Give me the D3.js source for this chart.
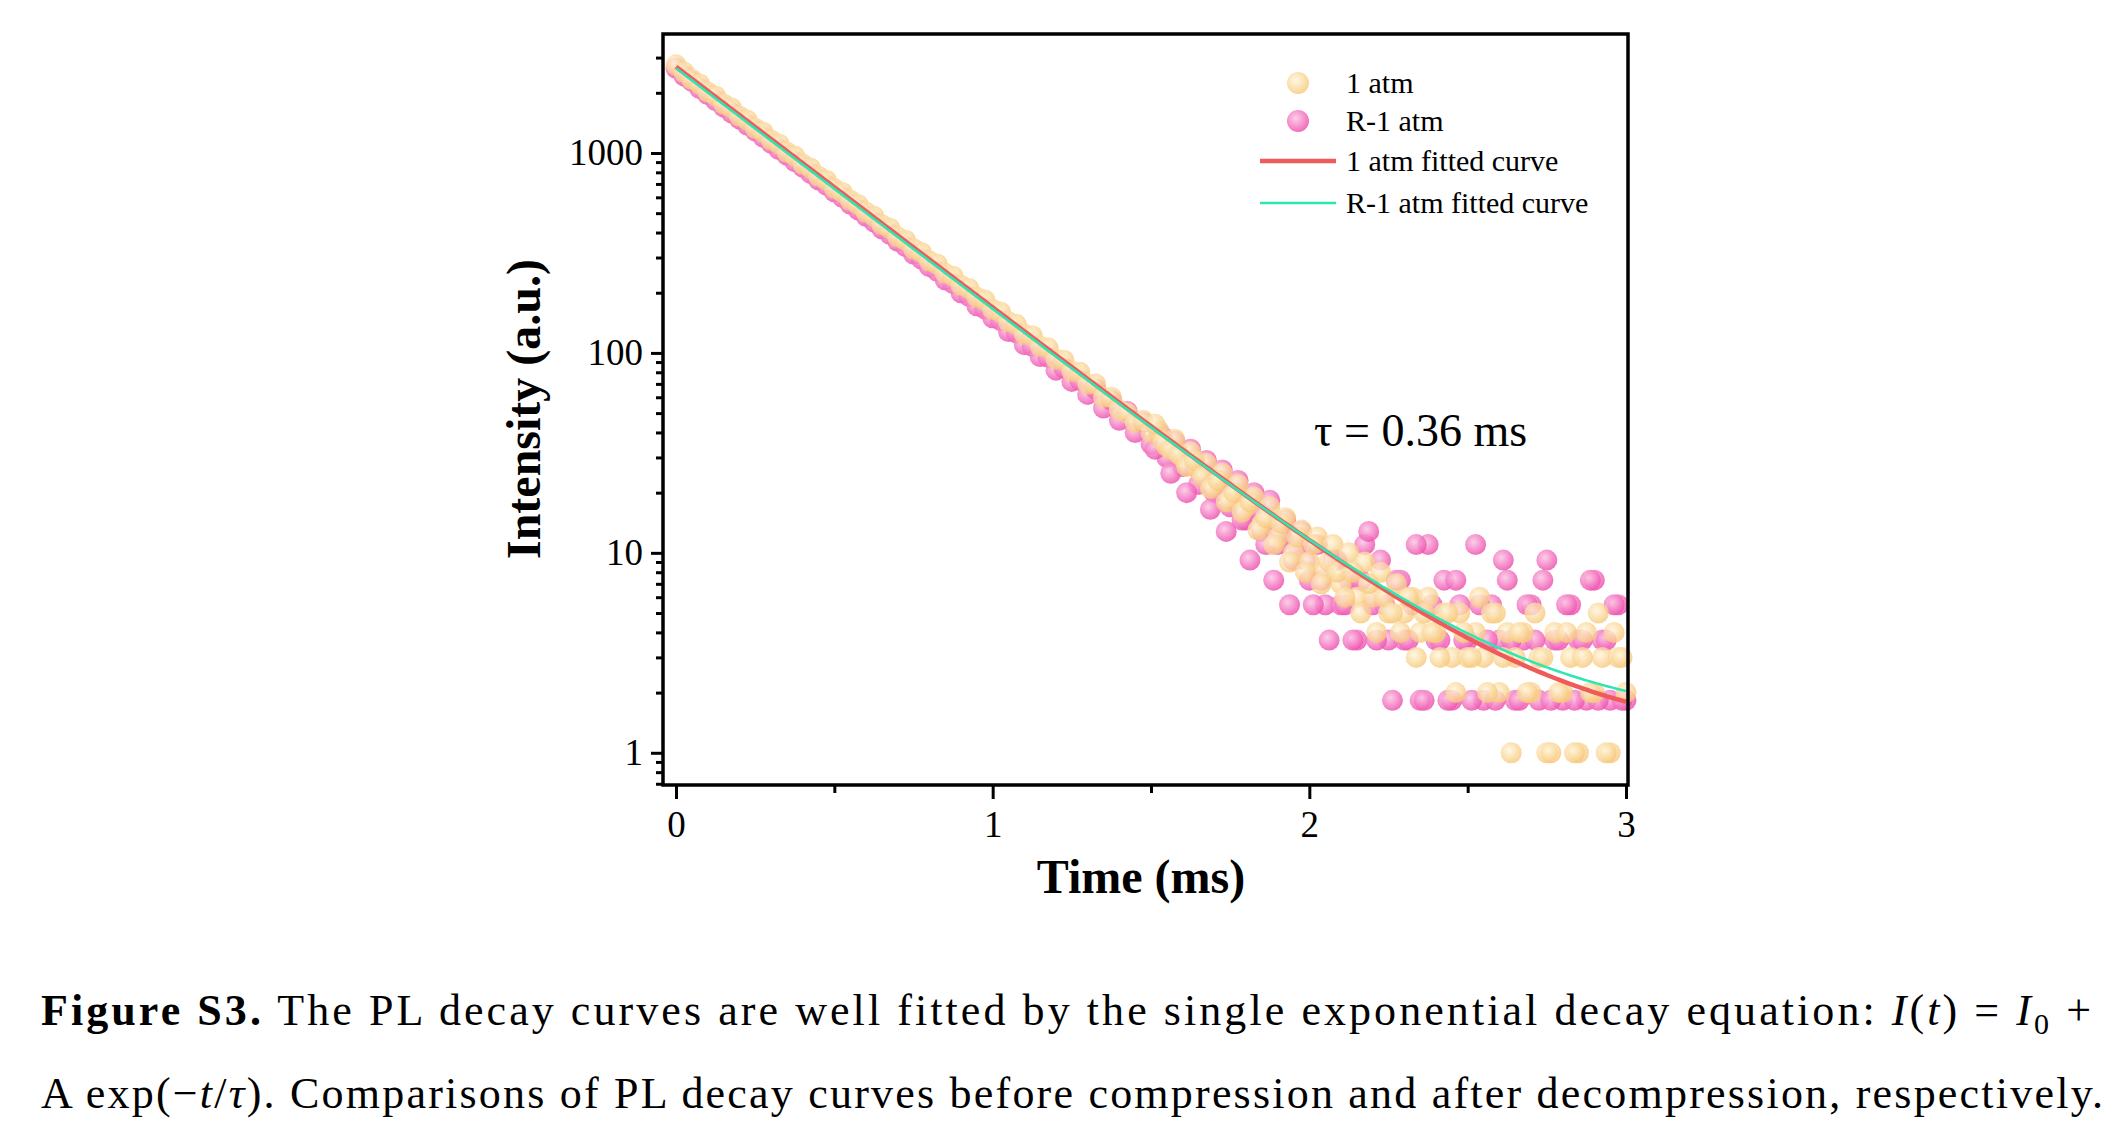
<!DOCTYPE html>
<html><head><meta charset="utf-8">
<script src="https://cdn.jsdelivr.net/npm/d3@7"></script>
<style>body{margin:0;background:#fff}svg{font-family:"Liberation Serif","Times New Roman",serif}</style>
</head><body><svg id="chart" width="2125" height="1128"></svg>
<script>
// sampling step of the decay traces (ms)
var step = 0.025;
var atm1 = [2760,2540,2330,2210,2020,1930,1760,1680,1530,1460,1330,1270,1160,1110,1010,965,880,840,765,730,665,
  635,580,552,505,482,438,420,380,366,332,318,288,278,250,242,218,210,190,184,165,
  160,143,139,124,122,108,106,93,92,81,80,70,70,60,60,52,50,45,46,40,
  41,34,37,30,32,26,28,22,25,19,22,17,19,14,17,12,15,10,13,9,
  12,8,11,7,10,6,9,6,8,5,7,5,6,4,6,4,5,3,5,3,
  4,3,5,2,4,3,4,2,3,1,4,2,3,1,4,2,3,1,3,2];
var r1atm = [2650,2430,2280,2100,1960,1830,1700,1590,1480,1380,1290,1200,1120,1040,975,905,850,790,735,690,640,
  600,555,520,482,452,418,392,362,340,312,295,270,256,232,222,200,192,172,166,150,
  145,128,126,110,108,96,95,82,84,72,73,62,66,53,58,46,51,40,45,35,
  40,30,36,27,33,22,29,20,26,17,23,14.6,20,12.8,18.3,11,14.6,9.2,12.8,7.3,
  11,5.5,9.2,5.5,7.3,3.66,11,5.5,9.2,3.66,7.3,3.66,5.5,1.83,11,3.66,7.3,1.83,5.5,3.66,
  11,1.83,5.5,3.66,7.3,1.83,3.66,5.5,1.83,9.2,3.66,1.83,5.5,3.66,1.83,7.3,3.66,1.83,5.5,1.83];
// extra tail samples, interleaved half a step later, starting at 1.5125 ms
var tailStart = 1.5125;
var atm1b = [44,36,33,31,27,29,24,21,23,18,20,16,18,13,15,11,14,9,12,8,
  11,7,9,8,6,8,5,7,4,6,5,4,6,3,5,4,3,5,2,4,
  3,6,2,5,3,1,4,2,5,3,1,2,4,1,3,2,5,1,4,3];
var r1atmb = [33,38,25,31,20,27,24,16.5,22,12.8,18.3,14.6,9.2,16.5,11,7.3,12.8,5.5,11,9.2,
  5.5,7.3,3.66,9.2,5.5,3.66,7.3,12.8,3.66,5.5,1.83,7.3,3.66,11,1.83,5.5,3.66,1.83,7.3,3.66,
  1.83,5.5,3.66,1.83,9.2,3.66,1.83,5.5,3.66,7.3,1.83,3.66,5.5,1.83,3.66,7.3,1.83,3.66,5.5,1.83];
// fit parameters I(t) = I0 + A exp(-t/tau): [I0, A, tau]
var fit1 = [1.15, 2700, 0.36];
var fitR = [1.4, 2650, 0.36];
var xTicks = [0, 1, 2, 3];
var yTicks = [1, 10, 100, 1000];
var legendLabels = ["1 atm", "R-1 atm", "1 atm fitted curve", "R-1 atm fitted curve"];

var svg = d3.select("#chart");
var L = 663, R = 1628, T = 34, B = 785;
var x = d3.scaleLinear().domain([0, 3]).range([676, 1626]);
var y = d3.scaleLog().domain([0.69, 3936]).range([B, T]);

var defs = svg.append("defs");
function grad(id, c0, c1) {
  var g = defs.append("radialGradient").attr("id", id).attr("cx", "40%").attr("cy", "38%").attr("r", "65%");
  g.append("stop").attr("offset", "0%").attr("stop-color", c0);
  g.append("stop").attr("offset", "100%").attr("stop-color", c1);
}
grad("gY", "#fff6dc", "#f7c574");
grad("gP", "#fcc6e4", "#ee4fae");

var plot = svg.append("g");
function dots(vals, t0, fill, op) {
  plot.selectAll(null).data(vals).enter().append("circle")
    .attr("cx", function(d, i) { return x(t0 + i * step); })
    .attr("cy", function(d) { return y(d); })
    .attr("r", 10.5).attr("fill", fill).attr("opacity", op);
}
dots(r1atm, 0, "url(#gP)", 0.85);
dots(r1atmb, tailStart, "url(#gP)", 0.85);
dots(atm1, 0, "url(#gY)", 0.8);
dots(atm1b, tailStart, "url(#gY)", 0.8);

var ts = d3.range(0, 3.0001, 0.01);
function fitLine(p, color, w) {
  plot.append("path").datum(ts)
    .attr("d", d3.line().x(function(t) { return x(t); }).y(function(t) { return y(p[0] + p[1] * Math.exp(-t / p[2])); }))
    .attr("fill", "none").attr("stroke", color).attr("stroke-width", w);
}
fitLine(fit1, "#ef5a5a", 4.5);
fitLine(fitR, "#2ee6b4", 2.5);

// frame
svg.append("rect").attr("x", L).attr("y", T).attr("width", R - L).attr("height", B - T)
  .attr("fill", "none").attr("stroke", "#000").attr("stroke-width", 3.5);

// x axis
svg.append("g").attr("transform", "translate(0," + B + ")")
  .call(d3.axisBottom(x).tickValues(xTicks).tickFormat(d3.format("d")).tickSize(14).tickPadding(12));
svg.append("g").attr("transform", "translate(0," + B + ")")
  .call(d3.axisBottom(x).tickValues([0.5, 1.5, 2.5]).tickFormat("").tickSize(8));
// y axis
svg.append("g").attr("transform", "translate(" + L + ",0)")
  .call(d3.axisLeft(y).tickValues(yTicks).tickFormat(d3.format("d")).tickSize(12).tickPadding(8));
var minors = [];
[0.1, 1, 10, 100, 1000].forEach(function(b) { for (var k = 2; k <= 9; k++) { var v = b * k; if (v >= 0.69 && v <= 3936) minors.push(v); } });
svg.append("g").attr("transform", "translate(" + L + ",0)")
  .call(d3.axisLeft(y).tickValues(minors).tickFormat("").tickSize(7));
svg.selectAll(".domain").remove();
svg.selectAll(".tick line").attr("stroke", "#000").attr("stroke-width", 3);
svg.selectAll(".tick text").attr("font-size", 37).attr("font-family", "Liberation Serif").attr("fill", "#000");

svg.append("text").attr("x", 1141).attr("y", 893).attr("text-anchor", "middle")
  .attr("font-size", 48).attr("font-weight", "bold").text("Time (ms)");
svg.append("text").attr("transform", "translate(540,409) rotate(-90)").attr("text-anchor", "middle")
  .attr("font-size", 48).attr("font-weight", "bold").text("Intensity (a.u.)");
svg.append("text").attr("x", 1314).attr("y", 446).attr("font-size", 46).text("τ = 0.36 ms");

// legend
var ly = [83, 121, 161, 203];
var lg = svg.append("g").attr("font-size", 30);
lg.append("circle").attr("cx", 1298).attr("cy", ly[0]).attr("r", 11).attr("fill", "url(#gY)").attr("opacity", 0.8);
lg.append("circle").attr("cx", 1298).attr("cy", ly[1]).attr("r", 11).attr("fill", "url(#gP)").attr("opacity", 0.85);
lg.append("line").attr("x1", 1260).attr("x2", 1336).attr("y1", ly[2]).attr("y2", ly[2]).attr("stroke", "#ef5a5a").attr("stroke-width", 4.5);
lg.append("line").attr("x1", 1260).attr("x2", 1336).attr("y1", ly[3]).attr("y2", ly[3]).attr("stroke", "#2ee6b4").attr("stroke-width", 2.5);
lg.selectAll("text").data(legendLabels).enter().append("text")
  .attr("x", 1346).attr("y", function(d, i) { return ly[i] + 10; }).text(function(d) { return d; });

// caption
var c1 = svg.append("text").attr("x", 41).attr("y", 1025).attr("font-size", 44).attr("textLength", 2050).attr("lengthAdjust", "spacing");
c1.append("tspan").attr("font-weight", "bold").text("Figure S3.");
c1.append("tspan").text(" The PL decay curves are well fitted by the single exponential decay equation: ");
c1.append("tspan").attr("font-style", "italic").text("I");
c1.append("tspan").text("(");
c1.append("tspan").attr("font-style", "italic").text("t");
c1.append("tspan").text(") = ");
c1.append("tspan").attr("font-style", "italic").text("I");
c1.append("tspan").attr("font-size", 30).attr("dy", 9).text("0");
c1.append("tspan").attr("dy", -9).text(" +");
var c2 = svg.append("text").attr("x", 41).attr("y", 1108).attr("font-size", 44).attr("textLength", 2062).attr("lengthAdjust", "spacing");
c2.append("tspan").text("A exp(−");
c2.append("tspan").attr("font-style", "italic").text("t");
c2.append("tspan").text("/");
c2.append("tspan").attr("font-style", "italic").text("τ");
c2.append("tspan").text("). Comparisons of PL decay curves before compression and after decompression, respectively.");
</script></body></html>
